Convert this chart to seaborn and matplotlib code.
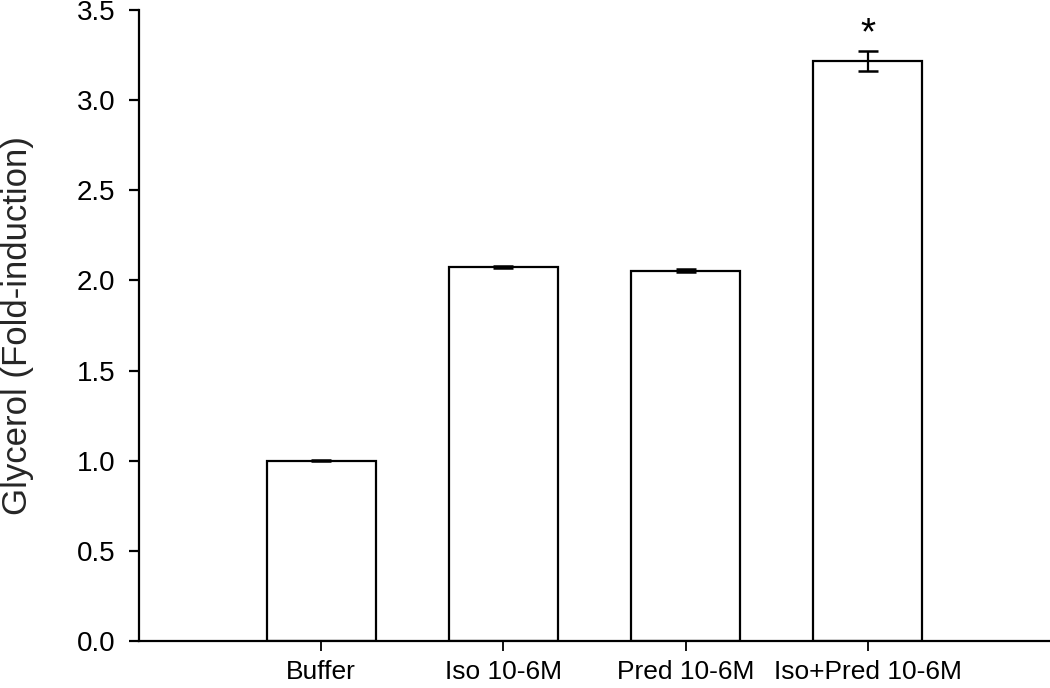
import numpy as np
import pandas as pd
import matplotlib
matplotlib.use("Agg")
import matplotlib.pyplot as plt
import seaborn as sns

# --- data ---
conditions = ["Buffer", "Iso 10-6M", "Pred 10-6M", "Iso+Pred 10-6M"]
fold_induction = [1.00, 2.075, 2.055, 3.215]
sem = [0.004, 0.006, 0.009, 0.055]
significant = [False, False, False, True]

sns.set_theme(style="ticks")
plt.rcParams["font.family"] = ["Liberation Sans", "DejaVu Sans"]

df = pd.DataFrame({"condition": conditions, "fold": fold_induction})

fig = plt.figure(figsize=(10.5, 6.88), dpi=100)
ax = fig.add_axes([0.1324, 0.0683, 0.8676, 0.9172])

sns.barplot(data=df, x="condition", y="fold", color="white", edgecolor="black",
            linewidth=1.6, width=0.6, errorbar=None, ax=ax)

ax.errorbar(np.arange(len(conditions)), fold_induction, yerr=sem, fmt="none",
            ecolor="black", elinewidth=1.6, capsize=7, capthick=1.8)

for i, (v, e, s) in enumerate(zip(fold_induction, sem, significant)):
    if s:
        # asterisk above the error bar
        ax.text(i, v + e + 0.04, "*", ha="center", va="baseline", fontsize=28,
                color="black")

ax.set_xlim(-1, 4)
ax.set_ylim(0, 3.5)
yt = np.arange(0, 3.51, 0.5)
ax.set_yticks(yt)
ax.set_yticklabels([f"{t:.1f}" for t in yt])
ax.set_xlabel("")
ax.set_ylabel("Glycerol (Fold-induction)", fontsize=25)
ax.yaxis.set_label_coords(-0.115, 0.5)

ax.tick_params(axis="y", labelsize=20, length=7, width=1.6, direction="out",
               pad=10, colors="black")
ax.tick_params(axis="x", labelsize=19, length=7, width=1.3, direction="out",
               pad=7, colors="black")

sns.despine(ax=ax)
for side in ["left", "bottom"]:
    ax.spines[side].set_linewidth(1.6)
    ax.spines[side].set_color("black")

fig.savefig("out.png", dpi=100)
